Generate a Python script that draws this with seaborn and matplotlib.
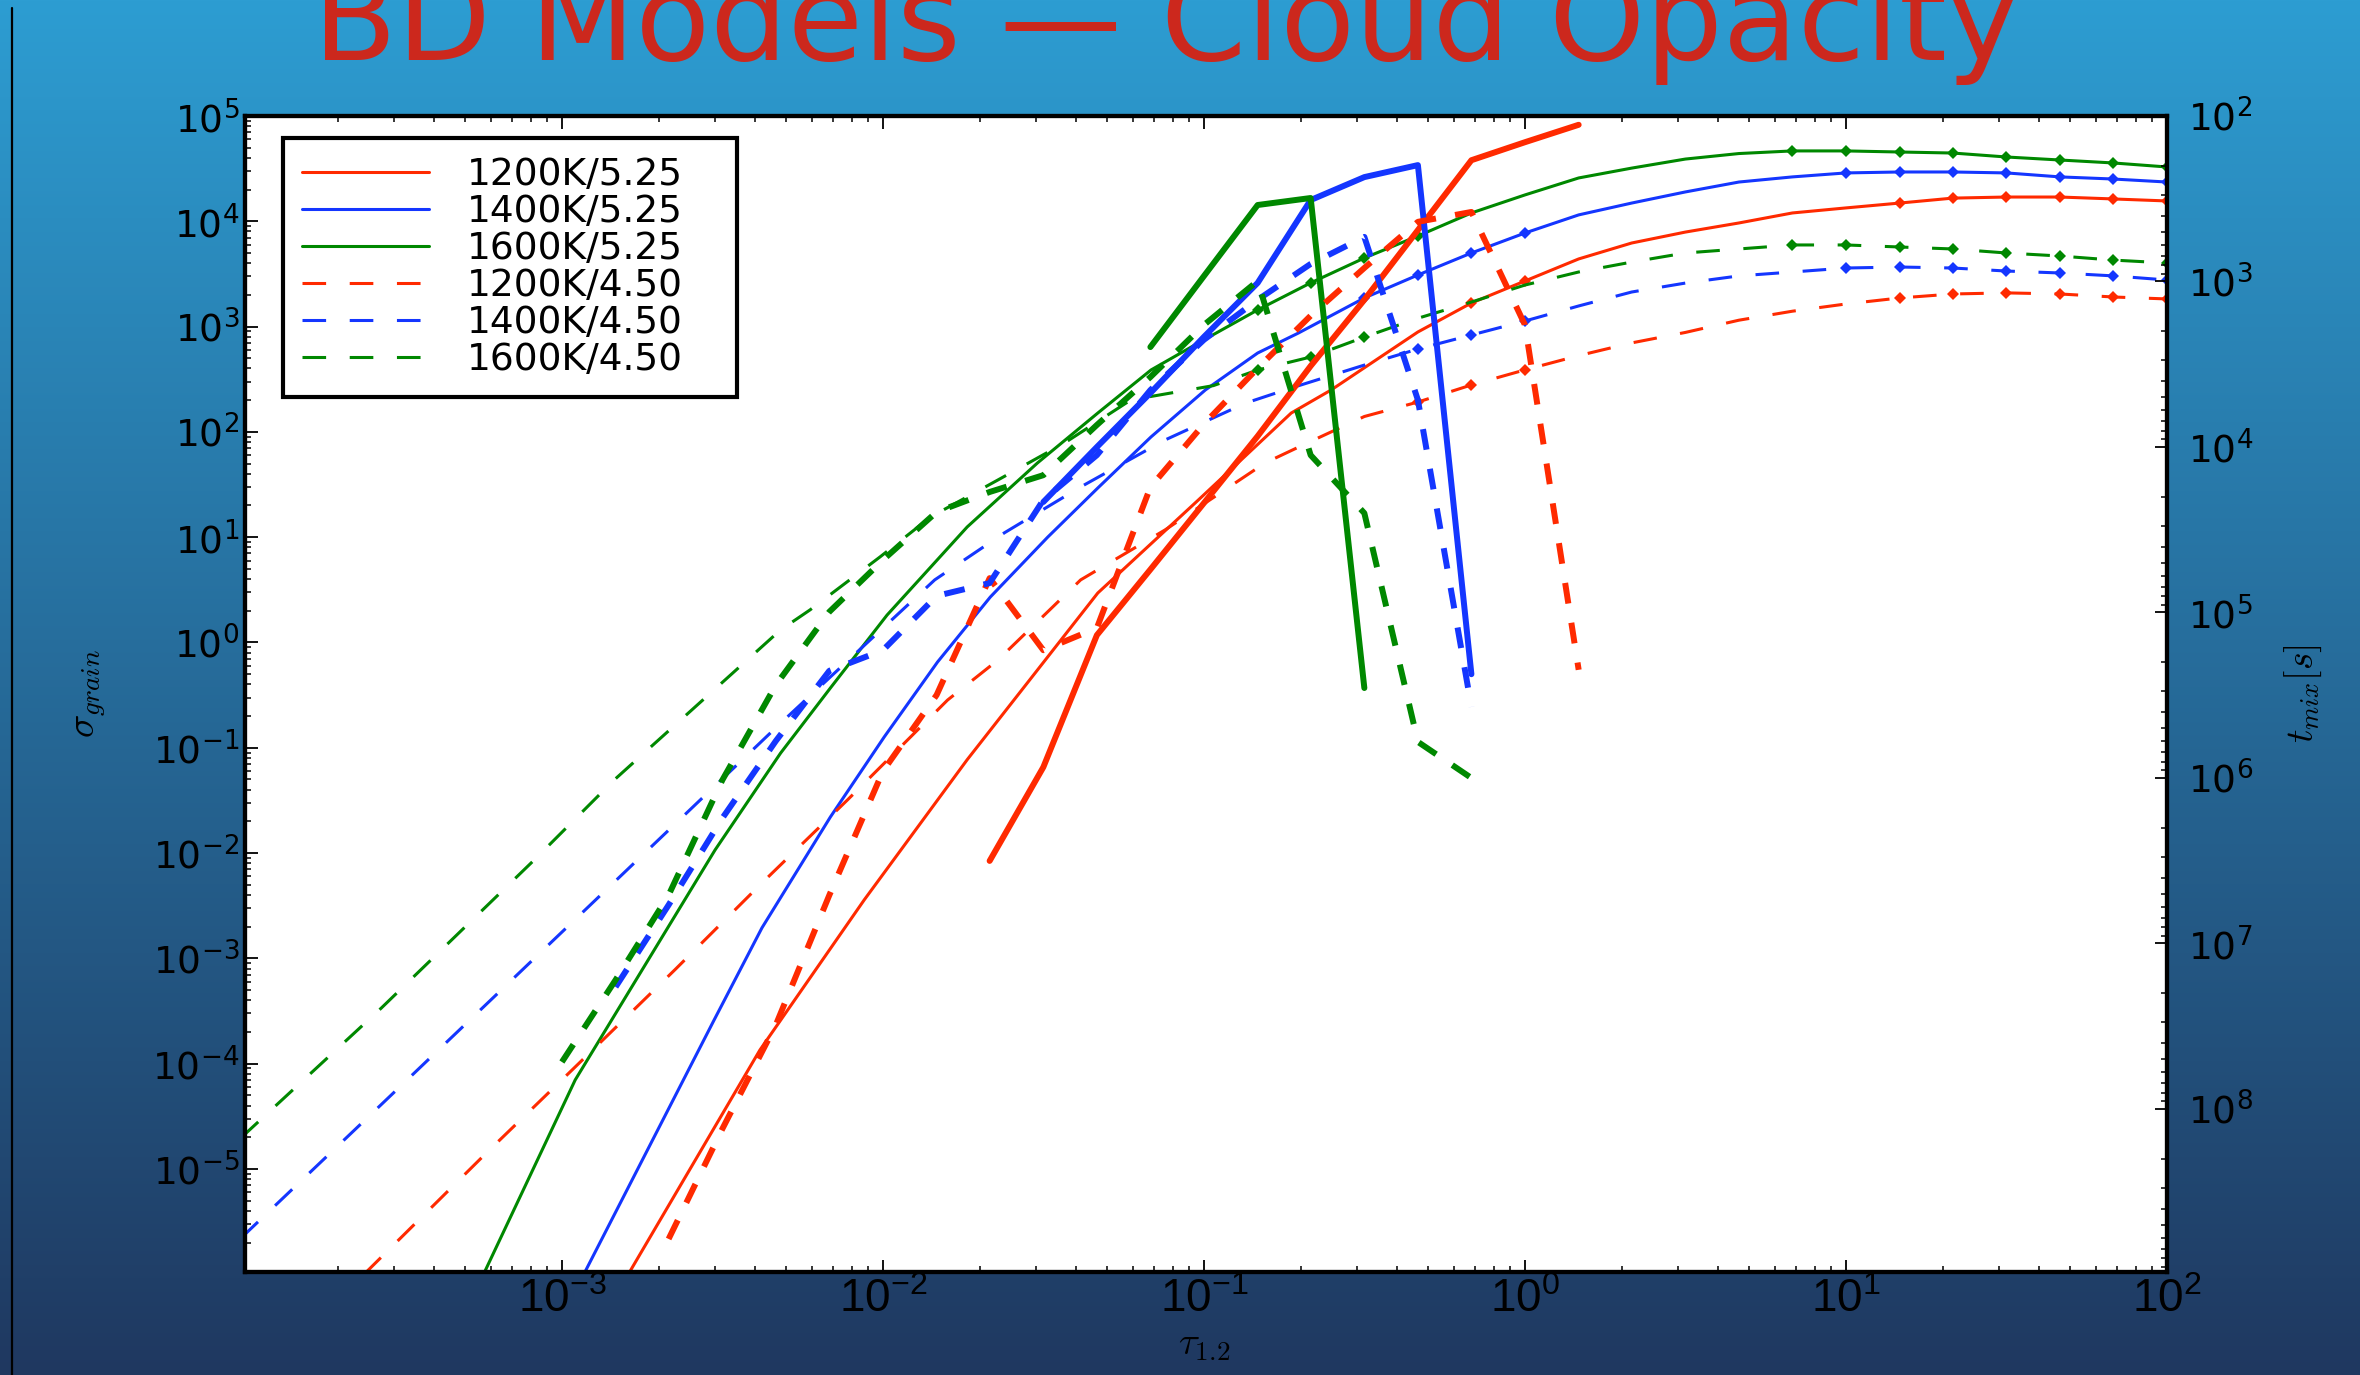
import numpy as np
import matplotlib
matplotlib.use("Agg")
import matplotlib.pyplot as plt
from matplotlib.lines import Line2D
from matplotlib.ticker import LogLocator, FuncFormatter, NullFormatter
import seaborn as sns

sns.set_theme(style="ticks")
plt.rcParams["font.family"] = ["DejaVu Sans"]
plt.rcParams["mathtext.fontset"] = "dejavusans"
plt.rcParams["lines.scale_dashes"] = False
plt.rcParams.update({"text.color": "black", "xtick.color": "black", "ytick.color": "black",
                     "axes.labelcolor": "black", "axes.edgecolor": "black"})

RED, BLUE, GREEN = "#ff2a00", "#1436ff", "#008800"
THIN_DASH = (0, (17, 17))
THICK_DASH = (0, (15, 14))

# ---- grain opacity sigma_grain versus tau_1.2 (thin curves, left axis) ----
tau_1200_525 = [1.61e-3, 4.14e-3, 8.75e-3, 1.83e-2, 4.67e-2, 9.6e-2, 0.187, 0.249, 0.464, 0.681,
                1.0, 1.47, 2.15, 3.16, 4.64, 6.81, 10, 14.7, 21.5, 31.6, 46.4, 68.1, 100]
sig_1200_525 = [1e-6, 1.35e-4, 3.6e-3, 7.7e-2, 2.95, 22.5, 151, 250, 889, 1675,
                2710, 4390, 6220, 7900, 9640, 1.2e4, 1.34e4, 1.49e4, 1.66e4, 1.70e4, 1.70e4, 1.63e4, 1.56e4]
mark_1200_525 = [9, 10, 17, 18, 19, 20, 21, 22]

tau_1400_525 = [1.17e-3, 2.98e-3, 4.2e-3, 6.86e-3, 1.01e-2, 1.48e-2, 2.16e-2, 3.26e-2, 4.67e-2, 6.84e-2,
                0.101, 0.147, 0.197, 0.316, 0.464, 0.681, 1.0, 1.47, 2.15, 3.16, 4.64, 6.81,
                10, 14.7, 21.5, 31.6, 46.4, 68.1, 100]
sig_1400_525 = [1e-6, 2.6e-4, 1.95e-3, 2.2e-2, 0.127, 0.653, 2.7, 10.0, 29.3, 89.5,
                250, 561, 869, 1870, 3090, 5000, 7740, 1.15e4, 1.49e4, 1.9e4, 2.36e4, 2.64e4,
                2.88e4, 2.94e4, 2.94e4, 2.88e4, 2.64e4, 2.52e4, 2.36e4]
mark_1400_525 = [13, 14, 15, 16, 22, 23, 24, 25, 26, 27, 28]

tau_1600_525 = [5.7e-4, 1.10e-3, 3.0e-3, 4.8e-3, 6.9e-3, 1.03e-2, 1.83e-2, 3.03e-2, 4.67e-2, 6.84e-2,
                0.096, 0.147, 0.215, 0.316, 0.464, 0.681, 1.0, 1.47, 2.15, 3.16, 4.64, 6.81,
                10, 14.7, 21.5, 31.6, 46.4, 68.1, 100]
sig_1600_525 = [1e-6, 7.0e-5, 1.07e-2, 8.9e-2, 0.378, 1.82, 12.5, 50.7, 151, 387,
                698, 1440, 2600, 4480, 7250, 1.2e4, 1.78e4, 2.58e4, 3.2e4, 3.9e4, 4.4e4, 4.66e4,
                4.66e4, 4.55e4, 4.45e4, 4.08e4, 3.82e4, 3.58e4, 3.28e4]
mark_1600_525 = [11, 12, 13, 14, 21, 22, 23, 24, 25, 26, 27, 28]

tau_1200_450 = [2.42e-4, 5.82e-4, 1.10e-3, 2.25e-3, 4.2e-3, 7.75e-3, 1.59e-2, 2.28e-2, 4.13e-2, 7.56e-2,
                0.155, 0.21, 0.316, 0.464, 0.681, 1.0, 1.47, 2.15, 3.16, 4.64, 6.81,
                10, 14.7, 21.5, 31.6, 46.4, 68.1, 100]
sig_1200_450 = [1e-6, 1.42e-5, 9.3e-5, 7.8e-4, 5.2e-3, 3.19e-2, 0.284, 0.68, 3.93, 11.7,
                50.7, 78.5, 140, 192, 279, 388, 530, 700, 880, 1150, 1400,
                1640, 1870, 2040, 2090, 2040, 1910, 1830]
mark_1200_450 = [13, 14, 15, 22, 23, 24, 25, 26, 27]

tau_1400_450 = [1e-4, 2.74e-4, 1.14e-3, 4.79e-3, 1.45e-2, 2.39e-2, 4.13e-2, 7.56e-2, 0.135, 0.187,
                0.316, 0.464, 0.681, 1.0, 1.47, 2.15, 3.16, 4.64, 6.81,
                10, 14.7, 21.5, 31.6, 46.4, 68.1, 100]
sig_1400_450 = [2.2e-6, 4.1e-5, 2.6e-3, 0.17, 3.93, 11.0, 30, 83.7, 188, 261,
                431, 612, 832, 1130, 1570, 2130, 2590, 3030, 3300,
                3600, 3680, 3600, 3370, 3230, 3030, 2770]
mark_1400_450 = [11, 12, 13, 19, 20, 21, 22, 23, 24, 25]

tau_1600_450 = [1e-4, 2.74e-4, 8.2e-4, 1.45e-3, 4.79e-3, 5.93e-3, 9.8e-3, 1.41e-2, 2.28e-2, 3.68e-2,
                5.92e-2, 0.107, 0.147, 0.215, 0.316, 0.464, 0.681, 1.0, 1.47, 2.15, 3.16, 4.64,
                6.81, 10, 14.7, 21.5, 31.6, 46.4, 68.1, 100]
sig_1600_450 = [1.97e-5, 3.38e-4, 8.6e-3, 4.9e-2, 1.31, 2.04, 6.5, 15.6, 34.9, 78.5,
                201, 275, 387, 514, 795, 1200, 1710, 2480, 3300, 4100, 5000, 5460,
                5960, 5960, 5700, 5460, 5000, 4680, 4280, 4020]
mark_1600_450 = [12, 13, 14, 22, 23, 24, 25, 26, 27, 28, 29]

# ---- mixing time t_mix versus tau_1.2 (thick curves, right axis) ----
tmx_tau_1200_525 = [2.15e-2, 3.16e-2, 4.64e-2, 6.81e-2, 0.1, 0.147, 0.215, 0.316, 0.464, 0.681, 1.0, 1.47]
tmix_1200_525 = [3.17e6, 8.6e5, 1.37e5, 5.5e4, 2.18e4, 8600, 3240, 1290, 489, 185, 144, 113]

tmx_tau_1400_525 = [3.16e-2, 4.64e-2, 6.81e-2, 0.1, 0.147, 0.215, 0.316, 0.464, 0.681]
tmix_1400_525 = [2.15e4, 1.0e4, 4720, 2160, 1020, 322, 234, 198, 2.36e5]

tmx_tau_1600_525 = [6.81e-2, 0.1, 0.147, 0.215, 0.316]
tmix_1600_525 = [2490, 927, 345, 313, 2.86e5]

tmx_tau_1200_450 = [2.15e-3, 3.16e-3, 4.64e-3, 6.81e-3, 1e-2, 1.47e-2, 2.15e-2, 3.16e-2, 4.64e-2,
                    6.81e-2, 0.1, 0.147, 0.215, 0.316, 0.464, 0.681, 1.0, 1.47]
tmix_1200_450 = [6.1e8, 1.32e8, 3.1e7, 5.1e6, 9.1e5, 3.15e5, 6.2e4, 1.69e5, 1.24e5,
                 1.75e4, 7260, 3340, 1610, 828, 436, 380, 1830, 2.22e5]

tmx_tau_1400_450 = [1.47e-3, 2.15e-3, 3.16e-3, 4.64e-3, 6.81e-3, 1e-2, 1.47e-2, 2.15e-2, 3.16e-2,
                    4.64e-2, 6.81e-2, 0.1, 0.147, 0.215, 0.316, 0.464, 0.681]
tmix_1400_450 = [1.83e7, 5.85e6, 1.75e6, 5.97e5, 2.25e5, 1.69e5, 7.94e4, 6.64e4, 2.09e4,
                 1.12e4, 4530, 2250, 1290, 783, 538, 5200, 3.72e5]

tmx_tau_1600_450 = [1e-3, 1.47e-3, 2.15e-3, 3.16e-3, 4.64e-3, 6.81e-3, 1e-2, 1.47e-2, 2.15e-2,
                    3.16e-2, 4.64e-2, 6.81e-2, 0.1, 0.147, 0.215, 0.316, 0.464, 0.681]
tmix_1600_450 = [5.2e7, 1.66e7, 5.1e6, 1.03e6, 2.74e5, 9.9e4, 4.82e4, 2.47e4, 1.87e4,
                 1.48e4, 7360, 3780, 1830, 993, 1.12e4, 2.51e4, 6.05e5, 1.0e6]

thin_curves = [
    ("1200K/5.25", tau_1200_525, sig_1200_525, mark_1200_525, RED, "-"),
    ("1400K/5.25", tau_1400_525, sig_1400_525, mark_1400_525, BLUE, "-"),
    ("1600K/5.25", tau_1600_525, sig_1600_525, mark_1600_525, GREEN, "-"),
    ("1200K/4.50", tau_1200_450, sig_1200_450, mark_1200_450, RED, THIN_DASH),
    ("1400K/4.50", tau_1400_450, sig_1400_450, mark_1400_450, BLUE, THIN_DASH),
    ("1600K/4.50", tau_1600_450, sig_1600_450, mark_1600_450, GREEN, THIN_DASH),
]
thick_curves = [
    (tmx_tau_1200_525, tmix_1200_525, RED, "-"),
    (tmx_tau_1400_525, tmix_1400_525, BLUE, "-"),
    (tmx_tau_1600_525, tmix_1600_525, GREEN, "-"),
    (tmx_tau_1200_450, tmix_1200_450, RED, THICK_DASH),
    (tmx_tau_1400_450, tmix_1400_450, BLUE, THICK_DASH),
    (tmx_tau_1600_450, tmix_1600_450, GREEN, THICK_DASH),
]

W, H = 2360, 1375
fig = plt.figure(figsize=(W / 100, H / 100), dpi=100)
fig.patch.set_facecolor("#1f3860")

# slide background: vertical blue gradient
bg = fig.add_axes([0, 0, 1, 1], zorder=-10)
c_top = np.array([45, 157, 210]) / 255
c_bot = np.array([31, 56, 96]) / 255
s = np.linspace(0, 1, 512)[:, None, None]
bg.imshow(c_top * (1 - s) + c_bot * s, aspect="auto", extent=(0, 1, 0, 1), origin="upper")
bg.set_axis_off()
fig.add_artist(Line2D([12 / W, 12 / W], [0, 1 - 8 / H], color="black", lw=1.6,
                      transform=fig.transFigure))

fig.text(1166 / W, 1 - 60 / H, "BD Models \u2014 Cloud Opacity", ha="center", va="baseline",
         fontsize=88, color="#cc281d")

ax = fig.add_axes([245 / W, 1 - 1272 / H, 1922 / W, 1156 / H])
ax.set_facecolor("white")
ax.set_xscale("log")
ax.set_yscale("log")
ax2 = ax.twinx()
ax2.set_yscale("log")

for label, x, y, mk, color, ls in thin_curves:
    sns.lineplot(x=x, y=y, ax=ax, color=color, linewidth=2.2, linestyle=ls,
                 marker="D", markevery=mk, markersize=6, markeredgecolor=color,
                 markeredgewidth=0, estimator=None, sort=False, errorbar=None, legend=False)

for x, y, color, ls in thick_curves:
    sns.lineplot(x=x, y=y, ax=ax2, color=color, linewidth=4.3, linestyle=ls,
                 estimator=None, sort=False, errorbar=None, legend=False)

ax.set_xlim(1.03e-4, 100)
ax.set_ylim(1.05e-6, 1e5)
ax2.set_ylim(9.66e8, 1e2)


def pow_fmt(hidden):
    def f(v, pos):
        if v <= 0:
            return ""
        e = int(np.round(np.log10(v)))
        if e in hidden:
            return ""
        return r"$\mathregular{10^{%d}}$" % e
    return FuncFormatter(f)


for axis, hidden in ((ax.xaxis, {-4}), (ax.yaxis, {-6}), (ax2.yaxis, {9})):
    axis.set_major_locator(LogLocator(base=10, subs=(1.0,), numticks=40))
    axis.set_minor_locator(LogLocator(base=10, subs=np.arange(2, 10), numticks=40))
    axis.set_major_formatter(pow_fmt(hidden))
    axis.set_minor_formatter(NullFormatter())

for a in (ax, ax2):
    for sp in a.spines.values():
        sp.set_linewidth(3.0)
        sp.set_color("black")
    a.tick_params(which="major", direction="in", length=9, width=1.3)
    a.tick_params(which="minor", direction="in", length=4.5, width=1.1)

ax.tick_params(axis="x", which="both", top=True, bottom=True, labelsize=33, pad=4,
               labelfontfamily=["Liberation Sans Narrow", "Liberation Sans", "DejaVu Sans"])
ax.tick_params(axis="y", which="both", left=True, right=False, labelsize=27, pad=4)
ax2.tick_params(axis="y", which="both", right=True, labelsize=27, pad=15)

ax.set_xlabel(r"$\tau_{1.2}$", fontsize=28, math_fontfamily="cm")
ax.xaxis.set_label_coords(0.499, -0.046)
ax.set_ylabel(r"$\sigma_{grain}$", fontsize=28, math_fontfamily="cm")
ax.yaxis.set_label_coords(-0.0713, 0.5)
ax2.set_ylabel(r"$t_{mix}[s]$", fontsize=27, math_fontfamily="cm")
ax2.yaxis.set_label_coords(1.0604, 0.5)

handles = [Line2D([], [], color=c, lw=2.2, linestyle=ls) for _, _, _, _, c, ls in thin_curves]
labels = [lab for lab, *_ in thin_curves]
leg = ax.legend(handles, labels, loc="upper left", bbox_to_anchor=(0.0198, 0.75, 0.2362, 0.231),
                mode="expand", borderaxespad=0, fontsize=27, handlelength=3.4, handletextpad=1.0,
                labelspacing=0.03, borderpad=0.5, fancybox=False, framealpha=1,
                edgecolor="black", facecolor="white")
leg.get_frame().set_linewidth(3.0)

fig.savefig("out.png", dpi=100, facecolor=fig.get_facecolor())
